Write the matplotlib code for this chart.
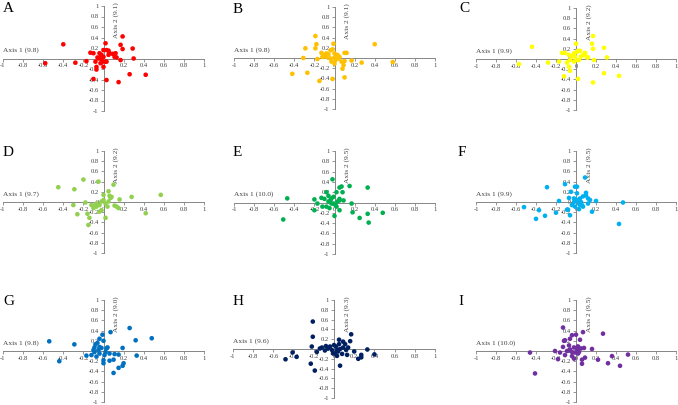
import matplotlib
matplotlib.use("Agg")
import matplotlib.pyplot as plt
import numpy as np

plt.rcParams['font.family'] = ['Liberation Serif', 'DejaVu Serif']

# ---------------- data ----------------
panel_letters = ["A", "B", "C", "D", "E", "F", "G", "H", "I"]
axis1_pct = ["9.8", "9.8", "9.9", "9.7", "10.0", "9.9", "9.8", "9.6", "10.0"]
axis2_pct = ["9.1", "9.1", "9.2", "9.2", "9.5", "9.5", "9.0", "9.3", "9.5"]
colors = ["#ff0000", "#ffc000", "#ffff00", "#92d050", "#00b050",
          "#00b0f0", "#0070c0", "#002060", "#7030a0"]

a_x = [-0.40, -0.58, -0.28, -0.17, -0.13, -0.10, -0.10, -0.07, -0.07, -0.08, -0.05, -0.03, -0.03, -0.02,
       0.00, 0.02, 0.03, 0.05, 0.03, 0.00, 0.02, 0.03, 0.05, 0.06, 0.09, 0.11, 0.12, 0.13, 0.17, 0.19,
       0.19, 0.17, 0.15, 0.26, 0.29, 0.30, 0.42, -0.01, -0.02, -0.04, 0.00, -0.06]
a_y = [0.27, -0.09, -0.08, -0.05, 0.11, 0.10, -0.39, -0.21, -0.16, -0.06, 0.00, 0.03, -0.09, 0.07,
       0.16, 0.29, 0.16, 0.15, -0.41, -0.16, -0.06, -0.06, 0.07, 0.10, 0.09, 0.03, 0.10, 0.02, 0.26, 0.18,
       0.42, -0.03, -0.45, -0.30, 0.19, 0.00, -0.31, -0.06, -0.02, 0.10, 0.03, 0.02]

b_x = [-0.42, -0.27, -0.31, -0.29, -0.19, -0.18, -0.19, -0.17, -0.15, -0.13, -0.12, -0.08, -0.06, -0.04,
       -0.02, -0.01, -0.02, -0.03, 0.00, 0.01, 0.03, 0.05, 0.07, 0.08, 0.09, 0.10, 0.10, 0.12, 0.10, 0.17,
       0.27, 0.40, 0.58, 0.00, -0.04, 0.04, -0.08, -0.10, 0.00]
b_y = [-0.31, -0.29, 0.00, 0.19, 0.43, 0.27, 0.19, -0.02, -0.45, 0.10, 0.02, 0.09, 0.07, 0.15,
       0.17, 0.28, -0.41, -0.07, -0.11, -0.04, 0.06, 0.02, -0.07, -0.21, -0.14, -0.06, 0.10, 0.10, -0.38, -0.05,
       -0.09, 0.27, -0.08, 0.01, -0.01, -0.01, 0.02, 0.06, 0.09]

c_x = [-0.44, -0.57, -0.28, -0.17, -0.14, -0.11, -0.12, -0.09, -0.07, -0.06, -0.07, -0.04, -0.02, 0.00,
       -0.01, 0.01, 0.02, 0.02, 0.04, 0.05, 0.07, 0.09, 0.11, 0.09, 0.12, 0.16, 0.17, 0.17, 0.18, 0.17,
       0.28, 0.28, 0.31, 0.43, 0.01, 0.03, -0.02, -0.06]
c_y = [0.24, -0.10, -0.07, -0.05, 0.12, 0.12, -0.34, -0.07, -0.15, -0.23, 0.08, 0.05, -0.05, 0.30,
       0.05, 0.14, -0.39, 0.16, 0.16, 0.05, 0.08, 0.09, 0.03, 0.12, 0.03, 0.30, 0.45, 0.20, -0.02, -0.46,
       0.22, -0.28, 0.03, -0.33, -0.02, -0.02, 0.11, -0.02]

d_x = [-0.45, -0.29, -0.20, -0.30, -0.26, -0.18, -0.16, -0.14, -0.15, -0.12, -0.09, -0.07, -0.05, -0.04,
       -0.02, 0.00, 0.00, 0.02, 0.02, 0.04, 0.05, 0.06, 0.07, 0.08, 0.10, 0.11, 0.13, 0.15, 0.16, 0.28,
       0.42, 0.57, -0.02, 0.05, -0.07, -0.10, -0.04]
d_y = [0.29, 0.25, 0.44, -0.06, -0.24, -0.01, -0.23, -0.31, -0.45, -0.06, -0.07, -0.09, 0.40, -0.06,
       -0.16, 0.14, 0.04, -0.31, -0.03, -0.09, 0.21, 0.12, 0.08, 0.10, 0.34, -0.07, -0.09, -0.12, 0.05, 0.10,
       -0.22, 0.14, 0.01, 0.01, -0.03, -0.12, -0.19]

e_x = [-0.47, -0.51, -0.20, -0.20, -0.17, -0.13, -0.12, -0.10, -0.08, -0.08, -0.06, -0.05, -0.04, -0.03,
       -0.02, -0.01, -0.01, 0.01, 0.00, 0.02, 0.03, 0.05, 0.05, 0.05, 0.07, 0.08, 0.09, 0.05, 0.15, 0.17,
       0.18, 0.25, 0.33, 0.33, 0.34, 0.48, -0.03, -0.06, 0.02]
e_y = [0.08, -0.33, 0.06, -0.15, -0.02, 0.09, -0.08, 0.07, -0.08, 0.20, 0.13, -0.11, 0.05, 0.08,
       0.45, -0.02, 0.11, -0.05, -0.26, 0.20, 0.02, 0.04, 0.29, -0.15, 0.31, 0.20, 0.04, 0.07, 0.32, -0.02,
       -0.19, -0.30, 0.29, -0.22, -0.39, -0.20, -0.02, 0.02, -0.08]

f_x = [-0.52, -0.40, -0.37, -0.31, -0.29, -0.20, -0.17, -0.11, -0.09, -0.08, -0.06, -0.07, -0.05, -0.04,
       -0.02, -0.01, 0.01, -0.01, 0.01, 0.01, 0.03, 0.03, 0.04, 0.05, 0.06, 0.07, 0.07, 0.09, 0.10, 0.10,
       0.12, 0.12, 0.14, 0.16, 0.20, 0.43, 0.47, 0.03, -0.02, 0.04]
f_y = [-0.10, -0.33, -0.16, -0.27, 0.29, -0.21, 0.02, 0.35, -0.15, -0.15, -0.26, 0.08, 0.20, -0.06,
       0.00, 0.30, 0.30, -0.09, 0.04, 0.17, -0.03, -0.14, 0.07, 0.00, -0.06, 0.11, -0.09, 0.48, 0.13, 0.18,
       -0.03, 0.07, 0.04, -0.19, 0.02, -0.43, -0.01, 0.04, 0.07, -0.06]

g_x = [-0.54, -0.44, -0.29, -0.17, -0.12, -0.09, -0.08, -0.06, -0.04, -0.09, -0.07, -0.05, -0.04, -0.02,
       -0.01, 0.00, 0.00, 0.00, 0.01, 0.03, 0.04, 0.06, 0.06, 0.07, 0.10, 0.10, 0.11, 0.15, 0.15, 0.19,
       0.19, 0.20, 0.26, 0.32, 0.33, 0.48, -0.04, 0.02, -0.10]
g_y = [0.19, -0.20, 0.13, -0.09, -0.08, 0.07, 0.13, 0.16, 0.24, -0.02, -0.11, 0.02, -0.05, 0.06,
       0.32, 0.20, -0.18, -0.24, -0.08, 0.05, 0.07, -0.05, -0.19, 0.37, -0.43, -0.17, -0.06, -0.33, -0.07, 0.06,
       -0.29, -0.24, 0.45, 0.21, -0.09, 0.25, 0.08, -0.02, 0.02]

h_x = [-0.48, -0.41, -0.37, -0.23, -0.22, -0.21, -0.21, -0.19, -0.17, -0.14, -0.12, -0.09, -0.08, -0.06,
       -0.04, -0.02, 0.00, 0.01, 0.02, 0.03, 0.03, 0.05, 0.05, 0.06, 0.06, 0.08, 0.09, 0.11, 0.12, 0.13,
       0.14, 0.16, 0.17, 0.20, 0.24, 0.27, 0.27, 0.33, 0.40, -0.01, 0.09, 0.04]
h_y = [-0.21, -0.07, -0.16, -0.30, 0.05, 0.25, 0.56, -0.44, -0.06, 0.01, 0.03, -0.03, 0.06, 0.01,
       0.05, -0.02, 0.08, -0.09, 0.05, -0.02, -0.14, 0.10, 0.19, 0.00, -0.34, -0.10, 0.15, 0.10, -0.02, -0.12,
       0.03, 0.16, 0.30, -0.05, -0.20, -0.17, -0.12, -0.01, -0.11, -0.09, 0.03, -0.05]

i_x = [-0.46, -0.41, -0.21, -0.18, -0.16, -0.13, -0.13, -0.12, -0.11, -0.11, -0.09, -0.07, -0.06, -0.06,
       -0.04, -0.04, -0.02, -0.02, -0.01, 0.00, 0.01, 0.02, 0.02, 0.04, 0.05, 0.06, 0.06, 0.07, 0.08, 0.09,
       0.16, 0.22, 0.27, 0.32, 0.36, 0.44, 0.52, -0.04, 0.03, -0.07]
i_y = [-0.03, -0.44, 0.00, -0.16, -0.03, 0.46, 0.08, 0.20, 0.21, -0.08, 0.00, 0.11, 0.24, 0.03,
       -0.10, 0.31, 0.07, -0.15, -0.03, 0.32, 0.04, -0.05, 0.09, 0.22, 0.05, -0.17, -0.25, 0.37, 0.06, -0.13,
       0.04, -0.17, 0.34, -0.24, -0.10, -0.29, -0.07, -0.02, -0.02, 0.01]

xs = [a_x, b_x, c_x, d_x, e_x, f_x, g_x, h_x, i_x]
ys = [a_y, b_y, c_y, d_y, e_y, f_y, g_y, h_y, i_y]

tick_vals = [-1, -0.8, -0.6, -0.4, -0.2, 0, 0.2, 0.4, 0.6, 0.8, 1]
tick_labels = ["-1", "-0.8", "-0.6", "-0.4", "-0.2", "0", "0.2", "0.4", "0.6", "0.8", "1"]

# ---------------- layout (pixels) ----------------
W, H = 678, 405
# (x at -1, x at 1, y at 1, y at -1)
boxes = [(3, 204, 6, 111), (234, 435, 7, 109), (476, 676, 8, 110),
         (3, 204, 151, 253), (234, 435, 151, 254), (476, 676, 151, 253),
         (3, 204, 300, 402), (233, 435, 300, 398), (476, 676, 300, 402)]
letter_pos = [(3, 12), (233, 13), (459, 12),
              (3, 156), (233, 156), (458, 156),
              (3, 305), (233, 305), (458, 305)]

fig = plt.figure(figsize=(W / 100, H / 100), dpi=100)
axis_col = "#868686"
text_col = "#404040"

for k in range(9):
    x0, x1, yt, yb = boxes[k]
    ax = fig.add_axes([x0 / W, (H - yb) / H, (x1 - x0) / W, (yb - yt) / H])
    ax.set_xlim(-1, 1)
    ax.set_ylim(-1, 1)
    ax.patch.set_alpha(0)
    for s in ["top", "right"]:
        ax.spines[s].set_visible(False)
    for s in ["left", "bottom"]:
        ax.spines[s].set_position(("data", 0))
        ax.spines[s].set_color(axis_col)
        ax.spines[s].set_linewidth(0.7)
    ax.set_xticks(tick_vals)
    ax.set_xticklabels(tick_labels)
    ax.set_yticks(tick_vals)
    ax.set_yticklabels(tick_labels)
    ax.tick_params(axis="both", direction="out", length=2, width=0.6, color=axis_col,
                   labelsize=4.7, labelcolor=text_col, pad=1.5)
    ax.scatter(xs[k], ys[k], s=11, color=colors[k], edgecolors="none", zorder=3, clip_on=False)
    ax.text(-1.0, 0.1, "Axis 1 (%s)" % axis1_pct[k], fontsize=5.3, color=text_col,
            ha="left", va="bottom")
    ax.text(0.1, 1.07, "Axis 2 (%s)" % axis2_pct[k], fontsize=5.3, color=text_col,
            ha="left", va="top", rotation=90)
    lx, ly = letter_pos[k]
    fig.text(lx / W, (H - ly) / H, panel_letters[k], fontsize=11, color="black",
             ha="left", va="baseline")

fig.savefig("out.png", dpi=100)
